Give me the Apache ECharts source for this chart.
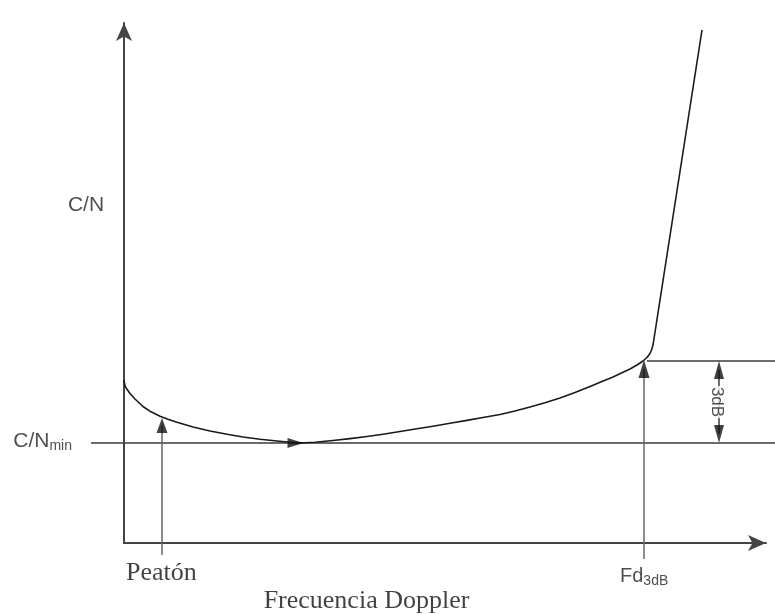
<!DOCTYPE html>
<html>
<head>
<meta charset="utf-8">
<script src="https://cdn.jsdelivr.net/npm/echarts@6/dist/echarts.min.js"></script>
<style>html,body{margin:0;padding:0;background:#fff}#c{width:775px;height:614px}</style>
</head>
<body>
<div id="c"></div>
<script>
// ---- data (arbitrary units: x 0..642 Doppler frequency, y 0..520 C/N) ----
const curveX = [0, 0.6, 1.5, 3, 6, 11, 19, 27, 36, 44, 53, 69, 86, 103, 119, 136, 153, 166, 176,
  191, 209, 226, 243, 259, 276, 293, 309, 326, 343, 359, 376, 391, 406, 421, 436, 451, 466, 478, 489, 498, 506, 513, 519, 523, 526, 527.5, 529, 578];
const curveY = [163, 159, 156, 153.7, 149.5, 144, 136.5, 131.2, 126.7, 123.7, 120.7, 116, 112, 108.7, 106, 103.8, 102, 100.7, 100,
  100.8, 102.5, 104.4, 106.5, 108.8, 111.5, 114.2, 116.8, 119.7, 122.6, 125.5, 128.5, 132, 136, 140.2, 145, 150.5, 156.5, 161.5, 166, 170.2, 174, 178, 182, 185.5, 189.5, 193, 198, 513];
const cnMinLevel = 100;            // C/N_min
const level3dB = 182;              // C/N_min + 3 dB
const cnMinLineX = [-33, 651];
const upperLineX = [523, 651];
const peatonX = 38;
const peatonY = [-12, 117.5];      // shaft bottom, arrow-head centre
const fdX = 520;
const fdY = [-16, 174];
const dbX = 595;
const dbHeadY = [173, 109];
const curveArrowX = 171.5;
const labelTexts = ['C/N', 'C/N', 'min', 'Peatón', 'Frecuencia Doppler', 'Fd', '3dB', '3dB'];
const labelPos = [[-38, 338], [-52, 102], [2, -30], [242.5, -58], [496, -33], [593, 141]];

const LINE = '#3a3a3a', AXIS = '#444', INK = '#1a1a1a', SHAFT = '#666';
const SANS = 'Liberation Sans, Arial, sans-serif';
const SERIF = 'Liberation Serif, Times New Roman, serif';

const curve = curveX.map((x, i) => [x, curveY[i]]);

const segments = [
  { coords: [[cnMinLineX[0], cnMinLevel], [cnMinLineX[1], cnMinLevel]], lineStyle: { color: LINE } },
  { coords: [[upperLineX[0], level3dB], [upperLineX[1], level3dB]], lineStyle: { color: LINE } },
  { coords: [[peatonX, peatonY[0]], [peatonX, peatonY[1]]], lineStyle: { color: SHAFT } },
  { coords: [[fdX, fdY[0]], [fdX, fdY[1]]], lineStyle: { color: SHAFT } },
  { coords: [[dbX, dbHeadY[0]], [dbX, dbHeadY[1]]], lineStyle: { color: LINE } }
];

const chart = echarts.init(document.getElementById('c'), null, { renderer: 'canvas' });
chart.setOption({
  animation: false,
  backgroundColor: '#fff',
  grid: { left: 124, right: 9, top: 23, bottom: 71 },
  xAxis: { type: 'value', min: 0, max: 642,
    axisLine: { show: true, onZero: false, symbol: ['none', 'arrow'], symbolSize: [12, 18], lineStyle: { color: AXIS, width: 2 } },
    axisTick: { show: false }, axisLabel: { show: false }, splitLine: { show: false } },
  yAxis: { type: 'value', min: 0, max: 520,
    axisLine: { show: true, onZero: false, symbol: ['none', 'arrow'], symbolSize: [12, 18], lineStyle: { color: AXIS, width: 2 } },
    axisTick: { show: false }, axisLabel: { show: false }, splitLine: { show: false } },
  series: [
    { type: 'lines', coordinateSystem: 'cartesian2d', clip: false, silent: true, z: 3,
      symbol: 'none', lineStyle: { width: 1.5, opacity: 1, curveness: 0 },
      data: segments },
    { type: 'line', data: curve, symbol: 'none', clip: false, smooth: false,
      lineStyle: { color: INK, width: 1.6, join: 'round' }, z: 4 },
    { type: 'scatter', clip: false, symbol: 'triangle', z: 5,
      itemStyle: { color: '#111' },
      data: [
        { value: [curveArrowX, cnMinLevel], symbolSize: [10, 16], symbolRotate: -90 },
        { value: [peatonX, peatonY[1]], symbolSize: [11, 15], symbolRotate: 0 },
        { value: [fdX, fdY[1]], symbolSize: [11, 18], symbolRotate: 0 },
        { value: [dbX, dbHeadY[0]], symbolSize: [10, 18], symbolRotate: 0 },
        { value: [dbX, dbHeadY[1]], symbolSize: [10, 18], symbolRotate: 180 }
      ] },
    { type: 'scatter', clip: false, symbolSize: 0, z: 6,
      label: { show: true, position: 'inside' },
      data: [
        { value: labelPos[0], label: { formatter: labelTexts[0], fontFamily: SANS, fontSize: 21, color: '#222' } },
        { value: labelPos[1], label: { formatter: '{m|' + labelTexts[1] + '}{s|' + labelTexts[2] + '}', align: 'right',
            rich: { m: { fontFamily: SANS, fontSize: 21, color: '#222', lineHeight: 24 },
                    s: { fontFamily: SANS, fontSize: 14, color: '#222', verticalAlign: 'bottom' } } } },
        { value: labelPos[2], label: { formatter: labelTexts[3], align: 'left', fontFamily: SERIF, fontSize: 26, color: '#111' } },
        { value: labelPos[3], label: { formatter: labelTexts[4], fontFamily: SERIF, fontSize: 26, color: '#111' } },
        { value: labelPos[4], label: { formatter: '{m|' + labelTexts[5] + '}{s|' + labelTexts[6] + '}', align: 'left',
            rich: { m: { fontFamily: SANS, fontSize: 20, color: '#222', lineHeight: 24 },
                    s: { fontFamily: SANS, fontSize: 14, color: '#222', verticalAlign: 'bottom' } } } },
        { value: labelPos[5], label: { formatter: labelTexts[7], rotate: -90, fontFamily: SANS, fontSize: 17, color: '#222',
            backgroundColor: '#fff', padding: [0, 1] } }
      ] }
  ]
});
</script>
</body>
</html>
